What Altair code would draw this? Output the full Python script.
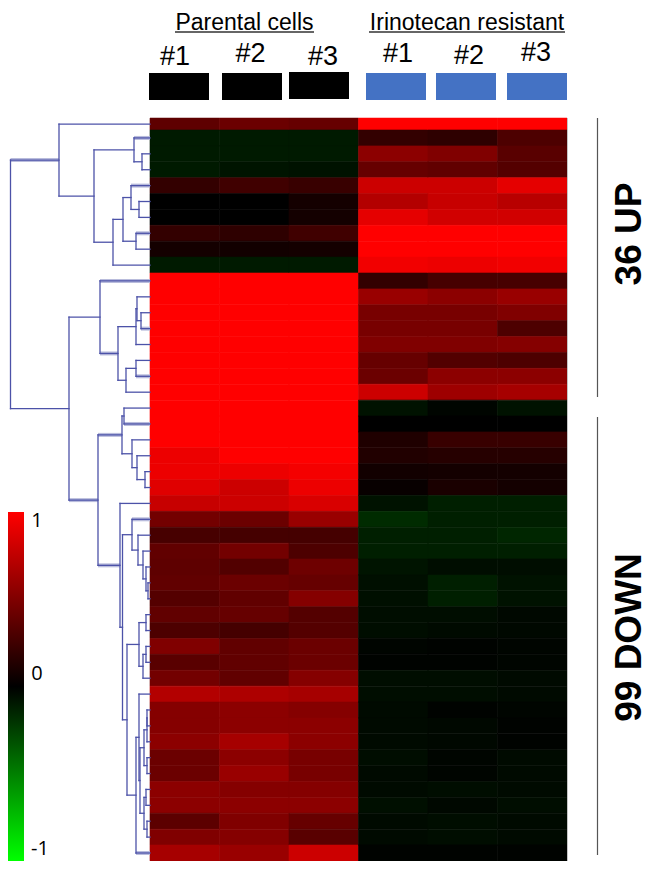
import altair as alt
import pandas as pd

W, H = 641, 853
P1 = [.37,-.10,-.10,-.10,.20,0,0,.20,.08,-.10,1,1,1,1,1,1,1,1,1,1,1,.93,.93,.88,.78,.45,.28,.38,.37,.38,.33,.38,.30,.50,.35,.45,.70,.52,.52,.55,.42,.42,.55,.55,.36,.50,.65]
P2 = [.42,-.10,-.10,-.08,.25,0,0,.18,.07,-.10,1,1,1,1,1,1,1,1,1,1,1,1,.93,.80,.80,.42,.27,.45,.32,.42,.38,.40,.27,.38,.38,.38,.68,.55,.55,.65,.55,.60,.52,.55,.50,.52,.60]
P3 = [.40,-.10,-.10,-.07,.22,.08,.08,.25,.08,-.10,1,1,1,1,1,1,1,1,1,1,1,1,.96,.93,.85,.60,.27,.30,.43,.40,.52,.33,.33,.42,.42,.52,.65,.52,.55,.55,.47,.47,.52,.55,.40,.35,.80]
R1 = [1,.20,.55,.40,.80,.70,.90,1,1,.95,.20,.60,.47,.47,.50,.40,.42,.80,-.07,0,.12,.13,.07,.03,-.07,-.17,-.12,-.12,-.08,-.06,-.06,-.05,-.05,-.02,-.01,-.05,-.05,-.04,-.04,-.04,-.05,-.04,-.04,-.06,-.04,-.04,-.01]
R2 = [1,.18,.50,.38,.80,.78,.82,1,1,.93,.28,.55,.47,.47,.50,.32,.55,.62,-.02,0,.22,.15,.08,.10,-.12,-.12,-.12,-.12,-.05,-.12,-.12,-.05,-.04,-.01,-.01,-.05,-.05,-.01,-.03,-.03,-.02,-.02,-.05,-.03,-.05,-.05,-.01]
R3 = [1,.30,.35,.33,.90,.72,.82,1,1,.95,.28,.60,.50,.30,.52,.30,.55,.65,-.07,0,.22,.15,.08,.08,-.12,-.12,-.15,-.12,-.05,-.07,-.07,-.03,-.03,-.02,-.02,-.04,-.04,-.02,-.01,-.01,-.04,-.04,-.04,-.05,-.04,-.04,-.01]
COLUMNS = [P1, P2, P3, R1, R2, R3]

# dendrogram: (distance, child, child); leaves are row numbers
TREE = (139.5,
    (91,
        0,
        (56, (16, 1, (8, 2, 3)),
             (37, (27, (19, 4, (11, 5, 6)), (14, 7, 8)), 9))),
    (81,
        (50, 10,
             (32, (14, (13, 11, (9, 12, 13)), 14),
                  (24, (14, 15, 16), 17))),
        (52,
            (28, (26, 18, 19), (18, 20, (13, 21, (5, 22, 23)))),
            (30, 24,
                (27.5,
                    (18, 25, (12, 26, (7, 27, (4, 28, (2, 29, 30))))),
                    (23,
                        (11, (4, 31, 32), (7, (4, 33, 34), 35)),
                        (14,
                            (11, 36,
                                (10, (6, (3, (3, 37, 38), 39), (3, 40, 41)),
                                     (6, (4, 42, 43), (3, 44, 45)))),
                            46)))))))
THICK_LEAVES = [1, 4, 7, 10, 13, 16, 19, 25, 46]
THICK_NODES = [91, 32, 28, 30, 52]

ROW_H = 15.89
ROW_TOP = 122.0      # chart pixel of the boundary under row 0
COL_W = 69.5
COL_LEFT = 142.0     # chart pixel of the heatmap's left edge

rows = []
for c, col in enumerate(COLUMNS):
    for r, v in enumerate(col):
        rows.append(dict(c0=c, c1=c + 1, r0=(-0.75 if r == 0 else r - 1), r1=(0 if r == 0 else r), v=float(v)))
cells = pd.DataFrame(rows)


def leaf_y(r):
    return -0.375 if r == 0 else r - 0.5


segs = []


def walk(n):
    if isinstance(n, int):
        return 0.0, leaf_y(n), n in THICK_LEAVES
    d, a, b = n
    da, ya, ta = walk(a)
    db, yb, tb = walk(b)
    segs.append(dict(d0=d, d1=da, y0=ya, y1=ya, thick=ta))
    segs.append(dict(d0=d, d1=db, y0=yb, y1=yb, thick=tb))
    segs.append(dict(d0=d, d1=d, y0=ya, y1=yb, thick=False))
    return d, (ya + yb) / 2, d in THICK_NODES


walk(TREE)
segs = pd.DataFrame(segs)

xcol = alt.Scale(domain=[-COL_LEFT / COL_W, (W - COL_LEFT) / COL_W], nice=False, zero=False)
yrow = alt.Scale(domain=[(H - ROW_TOP) / ROW_H, -ROW_TOP / ROW_H], nice=False, zero=False)
xdist = alt.Scale(domain=[COL_LEFT, COL_LEFT - W], nice=False, zero=False)
cs = alt.Scale(domain=[-1, 0, 1], range=["#00ff00", "#000000", "#ff0000"], interpolate="rgb")

heat = alt.Chart(cells).mark_rect(strokeWidth=0.6).encode(
    x=alt.X("c0:Q", scale=xcol, axis=None), x2="c1:Q",
    y=alt.Y("r0:Q", scale=yrow, axis=None), y2="r1:Q",
    fill=alt.Fill("v:Q", scale=cs, legend=None),
    stroke=alt.Stroke("v:Q", scale=cs, legend=None),
)

halo = alt.Chart(segs[segs.thick]).mark_rule(color="#b9bcdc", strokeWidth=4).encode(
    x=alt.X("d0:Q", scale=xdist, axis=None), x2="d1:Q",
    y=alt.Y("y0:Q", scale=yrow, axis=None), y2="y1:Q",
)
tree = alt.Chart(segs).mark_rule(color="#4c52a8", strokeWidth=1.3, strokeCap="square").encode(
    x=alt.X("d0:Q", scale=xdist, axis=None), x2="d1:Q",
    y=alt.Y("y0:Q", scale=yrow, axis=None), y2="y1:Q",
)

one = alt.Data(values=[{"a": 1}])


def box(x0, x1, y0, y1, color):
    return alt.Chart(one).mark_rect(color=color).encode(
        x=alt.value(x0 - 8), x2=alt.value(x1 - 8), y=alt.value(y0 - 8), y2=alt.value(y1 - 8))


def line(x0, x1, y0, y1, color, w=1.0):
    return alt.Chart(one).mark_rule(color=color, strokeWidth=w).encode(
        x=alt.value(x0 - 8), x2=alt.value(x1 - 8), y=alt.value(y0 - 8), y2=alt.value(y1 - 8))


def label(s, x, y, size, font="Open Sans", weight="normal", angle=0, align="center", color="#000000"):
    return alt.Chart(one).mark_text(text=s, font=font, fontSize=size, fontWeight=weight, angle=angle,
                                    align=align, baseline="alphabetic", color=color).encode(
        x=alt.value(x - 8), y=alt.value(y - 8))


gradient = alt.Gradient(gradient="linear", x1=0, x2=0, y1=0, y2=1, stops=[
    alt.GradientStop(offset=0, color="#ff0000"),
    alt.GradientStop(offset=0.5, color="#000000"),
    alt.GradientStop(offset=1, color="#00ff00"),
])
colorbar = alt.Chart(one).mark_rect(fill=gradient).encode(
    x=alt.value(0), x2=alt.value(16), y=alt.value(504), y2=alt.value(853))

parts = [heat, halo, tree, colorbar]
for x0, x1, y0, y1, c in [(149, 209, 73, 100, "#000000"), (222, 282, 73, 100, "#000000"), (289, 349, 72, 99, "#000000"),
                          (366, 426, 73, 100, "#4472c4"), (436, 496, 73, 100, "#4472c4"), (507, 567, 73, 100, "#4472c4")]:
    parts.append(box(x0, x1, y0, y1, c))
parts += [
    line(175, 314, 32, 32, "#333333", 1.3),
    line(369, 565, 32, 32, "#333333", 1.3),
    line(597.5, 597.5, 118, 397, "#555555", 1.2),
    line(597.5, 597.5, 417, 855, "#555555", 1.2),
    line(567.5, 567.5, 118, 861, "#c4c4c4", 1),
    label("Parental cells", 244.5, 30, 23, "Liberation Sans"),
    label("Irinotecan resistant", 467, 30, 23, "Liberation Sans"),
    label("#1", 175, 65, 27, "Liberation Sans"), label("#2", 250.5, 62, 27, "Liberation Sans"),
    label("#3", 323, 65, 27, "Liberation Sans"), label("#1", 398, 62, 27, "Liberation Sans"),
    label("#2", 469, 64, 27, "Liberation Sans"), label("#3", 536, 61, 27, "Liberation Sans"),
    label("36 UP", 641, 234, 37, "Liberation Sans", "bold", 270),
    label("99 DOWN", 641, 637.5, 37, "Liberation Sans", "bold", 270),
    label("1", 37, 527, 20), label("0", 37, 680, 20), label("-1", 40, 855, 20),
]

chart = alt.layer(*parts).resolve_scale(
    x="independent", y="independent", color="independent", fill="independent", stroke="independent"
).properties(
    width=W, height=H, padding=0, autosize=alt.AutoSizeParams(type="none"), background="#ffffff"
).configure_view(stroke=None)

chart.save("out.html", embed_options={"renderer": "svg", "actions": False})
